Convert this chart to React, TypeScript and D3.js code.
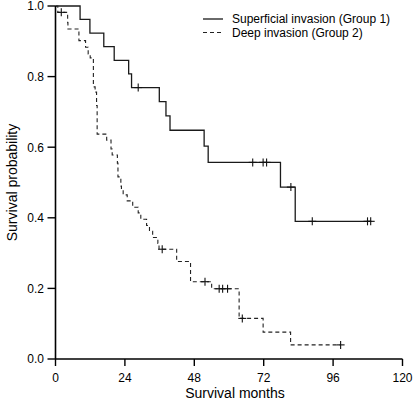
import React from "react";
import * as d3 from "d3";

const W = 413;
const H = 402;

// Group 1: superficial invasion (event times in months, survival after event)
const group1Times = [8.5, 11.9, 16.7, 20.3, 25.3, 26.3, 35.9, 38.2, 39.6, 51.4, 52.8, 77.8, 82.9];
const group1Surv = [0.962, 0.923, 0.885, 0.846, 0.808, 0.769, 0.729, 0.689, 0.648, 0.603, 0.557, 0.487, 0.39];
const group1Censor = [28.6, 68.2, 71.8, 73.0, 81.4, 88.8, 107.9, 109.0];

// Group 2: deep invasion
const group2Times = [0.8, 4.2, 4.3, 8.1, 10.4, 11.3, 12.0, 13.1, 13.7, 14.2, 14.4, 17.7, 19.2, 19.6, 21.4, 21.6, 22.6, 22.8, 23.4, 24.8, 26.7, 28.6, 29.5, 31.5, 32.5, 33.6, 35.4, 35.8, 41.9, 46.7, 54.0, 63.5, 71.8, 81.3];
const group2Surv = [0.982, 0.953, 0.935, 0.902, 0.883, 0.864, 0.853, 0.771, 0.756, 0.718, 0.637, 0.62, 0.595, 0.578, 0.555, 0.516, 0.49, 0.479, 0.465, 0.448, 0.43, 0.414, 0.396, 0.378, 0.362, 0.344, 0.327, 0.311, 0.276, 0.219, 0.199, 0.115, 0.076, 0.04];
const group2Censor = [2.0, 36.9, 51.7, 56.6, 57.8, 59.5, 64.6, 98.6];

const xTicks = [0, 24, 48, 72, 96, 120];
const yTicks = [0, 0.2, 0.4, 0.6, 0.8, 1.0];
const legendLabels = ["Superficial invasion (Group 1)", "Deep invasion (Group 2)"];

const FONT = "'Liberation Sans', Arial, Helvetica, sans-serif";

const x = d3.scaleLinear().domain([0, 120]).range([55.5, 402.5]);
const y = d3.scaleLinear().domain([0, 1]).range([359, 6]);

function survAt(times: number[], surv: number[], t: number) {
  let s = 1;
  for (let i = 0; i < times.length; i++) if (times[i] <= t) s = surv[i];
  return s;
}

function stepPath(times: number[], surv: number[], censor: number[]) {
  const pts: [number, number][] = [[0, 1]];
  times.forEach((t, i) => pts.push([t, surv[i]]));
  const end = Math.max(times[times.length - 1], ...censor);
  pts.push([end, surv[surv.length - 1]]);
  return d3
    .line<[number, number]>()
    .x((d) => x(d[0]))
    .y((d) => y(d[1]))
    .curve(d3.curveStepAfter)(pts) as string;
}

const series = [
  { times: group1Times, surv: group1Surv, censor: group1Censor, dash: undefined as string | undefined, color: "#1a1a1a", width: 1.3 },
  { times: group2Times, surv: group2Surv, censor: group2Censor, dash: "4,3", color: "#222", width: 1.1 },
];

export default function App() {
  return (
    <svg
      width={W}
      height={H}
      style={{ position: "absolute", left: 0, top: 0, background: "#fff" }}
      fontFamily={FONT}
    >
      {series.map((s, i) => (
        <g key={i}>
          <path d={stepPath(s.times, s.surv, s.censor)} fill="none" stroke={s.color} strokeWidth={s.width} strokeDasharray={s.dash} />
          {s.censor.map((c, j) => {
            const cx = x(c);
            const cy = y(survAt(s.times, s.surv, c));
            return (
              <g key={j} stroke="#111" strokeWidth={1.1}>
                <line x1={cx} x2={cx} y1={cy - 4} y2={cy + 4} />
                <line x1={cx - 4} x2={cx + 4} y1={cy} y2={cy} />
              </g>
            );
          })}
        </g>
      ))}

      {/* axes */}
      <line x1={x(0)} x2={x(120)} y1={y(0)} y2={y(0)} stroke="#000" strokeWidth={1.6} />
      <line x1={x(0)} x2={x(0)} y1={y(0)} y2={y(1)} stroke="#000" strokeWidth={1.6} />
      {xTicks.map((t) => (
        <g key={t}>
          <line x1={x(t)} x2={x(t)} y1={y(0)} y2={y(0) + 7} stroke="#000" strokeWidth={1.4} />
          <text x={x(t)} y={382} fontSize={12} textAnchor="middle" fill="#000">
            {t}
          </text>
        </g>
      ))}
      {yTicks.map((t) => (
        <g key={t}>
          <line x1={x(0) - 8} x2={x(0)} y1={y(t)} y2={y(t)} stroke="#000" strokeWidth={1.4} />
          <text x={44} y={y(t) + 4.3} fontSize={12} textAnchor="end" fill="#000">
            {t.toFixed(1)}
          </text>
        </g>
      ))}
      <text x={235} y={398} fontSize={14} textAnchor="middle" fill="#000">
        Survival months
      </text>
      <text transform={`translate(17,${y(0.5)}) rotate(-90)`} fontSize={14} textAnchor="middle" fill="#000">
        Survival probability
      </text>

      {/* legend */}
      {legendLabels.map((lab, i) => (
        <g key={lab}>
          <line
            x1={203}
            x2={223}
            y1={19 + i * 13.5}
            y2={19 + i * 13.5}
            stroke={series[i].color}
            strokeWidth={series[i].width}
            strokeDasharray={series[i].dash}
          />
          <text x={232} y={23.3 + i * 13.5} fontSize={12} fill="#000">
            {lab}
          </text>
        </g>
      ))}
    </svg>
  );
}
